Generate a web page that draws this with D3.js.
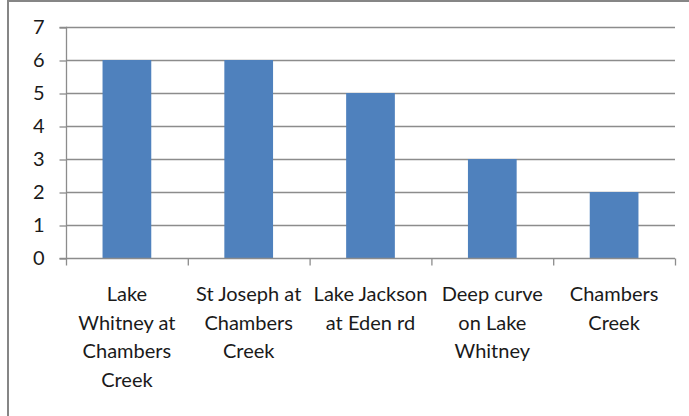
<!DOCTYPE html>
<html>
<head>
<meta charset="utf-8">
<script src="https://cdn.jsdelivr.net/npm/d3@7"></script>
<style>
  body { margin: 0; background: #fff; }
  svg { display: block; }
  text { font-family: Lato, "Open Sans", sans-serif; fill: #1a1a1a; }
</style>
</head>
<body>
<div id="chart"></div>
<script>
// Categories and values
const categories = ["Lake Whitney at Chambers Creek", "St Joseph at Chambers Creek", "Lake Jackson at Eden rd", "Deep curve on Lake Whitney", "Chambers Creek"];
const labelLines = [
    ["Lake", "Whitney at", "Chambers", "Creek"],
    ["St Joseph at", "Chambers", "Creek"],
    ["Lake Jackson", "at Eden rd"],
    ["Deep curve", "on Lake", "Whitney"],
    ["Chambers", "Creek"]
];
const values = [6, 6, 5, 3, 2];
const yTicks = [0, 1, 2, 3, 4, 5, 6, 7];

const w = 689;
const h = 416;
const pLeft = 66, pRight = 675, pTop = 27, pBottom = 258;

const svg = d3.select("#chart").append("svg")
              .attr("width", w)
              .attr("height", h);

// outer frame
svg.append("rect")
   .attr("x", 8)
   .attr("y", 1)
   .attr("width", w + 10)
   .attr("height", h + 10)
   .attr("fill", "none")
   .attr("stroke", "#868686")
   .attr("stroke-width", 2);

const xScale = d3.scaleBand()
                 .domain(categories)
                 .range([pLeft, pRight])
                 .paddingInner(0.6)
                 .paddingOuter(0.3);
const xBand = d3.scaleBand().domain(categories).range([pLeft, pRight]);
const yScale = d3.scaleLinear()
                 .domain([0, 7])
                 .range([pBottom, pTop]);

// gridlines
svg.append("g")
   .selectAll("line")
   .data(yTicks.filter(d => d > 0))
   .enter()
   .append("line")
   .attr("x1", pLeft)
   .attr("x2", pRight)
   .attr("y1", d => yScale(d) + 0.5)
   .attr("y2", d => yScale(d) + 0.5)
   .attr("stroke", "#8c8c8c")
   .attr("stroke-width", 1.3);

// bars
svg.append("g")
   .selectAll("rect")
   .data(values)
   .enter()
   .append("rect")
   .attr("x", (d, i) => xScale(categories[i]))
   .attr("y", d => yScale(d))
   .attr("width", xScale.bandwidth())
   .attr("height", d => pBottom - yScale(d))
   .attr("fill", "#4f81bd");

// y axis
const yAxis = d3.axisLeft(yScale)
                .tickValues(yTicks)
                .tickFormat(d3.format("d"))
                .tickSize(7)
                .tickPadding(15);
const yG = svg.append("g")
   .attr("transform", "translate(" + (pLeft + 0.5) + ",0.5)")
   .call(yAxis);
yG.attr("font-family", null).attr("font-size", null);
yG.selectAll("line, path").attr("stroke", "#8c8c8c").attr("stroke-width", 1.3);
yG.select("path").attr("d", "M-7," + pTop + "H0V" + pBottom + "H-7");
yG.selectAll("text").style("font-size", "20px").attr("fill", "#1a1a1a");

// x axis
const xAxis = d3.axisBottom(xBand).tickSize(0).tickFormat("");
const xG = svg.append("g")
   .attr("transform", "translate(0," + (pBottom + 0.5) + ")")
   .call(xAxis);
xG.select("path").attr("stroke", "#8c8c8c").attr("stroke-width", 1.3)
   .attr("d", "M" + pLeft + ",0H" + pRight);
xG.selectAll(".tick").remove();
// boundary ticks
xG.selectAll("line.b")
  .data(categories.map(c => xBand(c)).concat([pRight]))
  .enter()
  .append("line")
  .attr("class", "b")
  .attr("x1", d => d + 0.5)
  .attr("x2", d => d + 0.5)
  .attr("y1", 0)
  .attr("y2", 7)
  .attr("stroke", "#8c8c8c")
  .attr("stroke-width", 1.3);

// category labels
const labels = svg.append("g")
   .selectAll("text")
   .data(categories)
   .enter()
   .append("text")
   .attr("x", d => xBand(d) + xBand.bandwidth() / 2)
   .attr("y", 301)
   .attr("text-anchor", "middle")
   .style("font-size", "20px");
labels.each(function(d, i) {
    d3.select(this).selectAll("tspan")
      .data(labelLines[i])
      .enter()
      .append("tspan")
      .attr("x", xBand(d) + xBand.bandwidth() / 2)
      .attr("dy", (t, j) => j === 0 ? 0 : 28.7)
      .text(t => t);
});
</script>
</body>
</html>
